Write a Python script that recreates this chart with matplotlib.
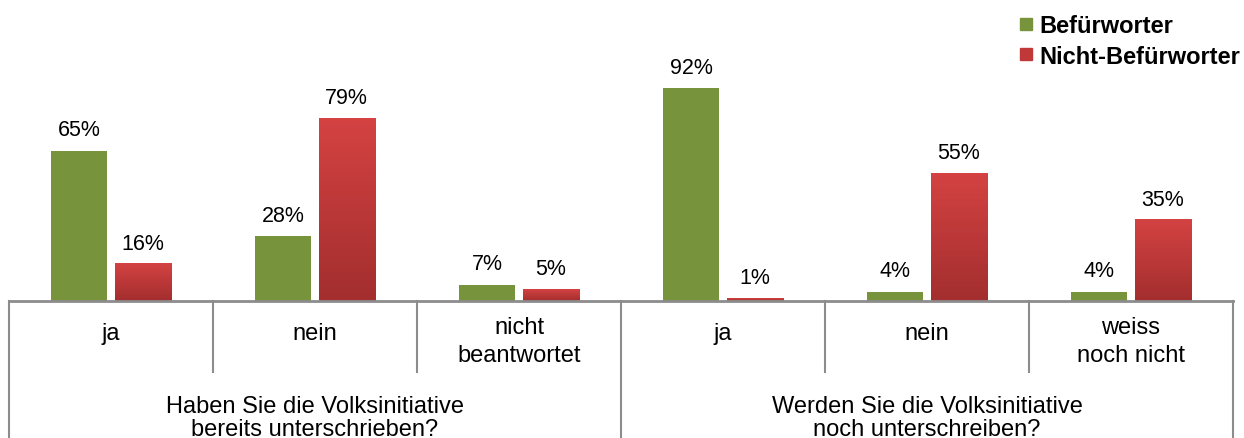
import numpy as np
import matplotlib.pyplot as plt
from matplotlib.colors import LinearSegmentedColormap
from matplotlib.lines import Line2D

plt.rcParams['font.family'] = ['Liberation Sans', 'DejaVu Sans']

# Daten
categories = ["ja", "nein", "nicht\nbeantwortet", "ja", "nein", "weiss\nnoch nicht"]
groups = ["Haben Sie die Volksinitiative\nbereits unterschrieben?",
          "Werden Sie die Volksinitiative\nnoch unterschreiben?"]
befuerworter = [65, 28, 7, 92, 4, 4]
nicht_befuerworter = [16, 79, 5, 1, 55, 35]
series_names = ["Befürworter", "Nicht-Befürworter"]

green = "#77933c"
red_cmap = LinearSegmentedColormap.from_list("rot", ["#a32e2e", "#d44242"])

W, H = 1244, 439
fig = plt.figure(figsize=(W / 100, H / 100), dpi=100)
base_px = 302
ax = fig.add_axes([9 / W, (H - base_px) / H, 1224 / W, base_px / H])
scale = 2.315  # pixel pro Prozent
ymax = base_px / scale
ax.axis("off")

def py(ypx):
    # Pixelzeile -> Datenkoordinate
    return (base_px - ypx) / scale

x = np.arange(len(categories)) + 0.5
bw = 0.275
off = 0.155

ax.bar(x - off, befuerworter, width=bw, color=green, zorder=2)
grad = np.linspace(0, 1, 100).reshape(-1, 1)
for xi, v in zip(x + off, nicht_befuerworter):
    ax.imshow(grad, cmap=red_cmap, origin="lower", aspect="auto",
              extent=(xi - bw / 2, xi + bw / 2, 0, v), zorder=2)
ax.set_xlim(0, len(categories))
ax.set_ylim(0, ymax)

for xi, v in zip(x - off, befuerworter):
    ax.text(xi, v + 9, f"{v}%", ha="center", va="center", fontsize=15.5)
for xi, v in zip(x + off, nicht_befuerworter):
    ax.text(xi, v + 9, f"{v}%", ha="center", va="center", fontsize=15.5)

# Achse und Trennlinien
lc = "#8c8c8c"
ax.plot([0, len(categories)], [0, 0], color=lc, lw=2, clip_on=False, zorder=3)
for i in range(len(categories) + 1):
    bottom = py(H) if i % 3 == 0 else py(373)
    ax.plot([i, i], [0, bottom], color=lc, lw=1.5, clip_on=False)

for xi, c in zip(x, categories):
    yc = py(334) if "\n" not in c else py(342)
    ax.text(xi, yc, c, ha="center", va="center", fontsize=17, linespacing=1.4)

for gi, g in enumerate(groups):
    ax.text(gi * 3 + 1.5, py(418.5), g, ha="center", va="center", fontsize=17,
            linespacing=1.1)

handles = [Line2D([], [], marker="s", color=green, ls="", markersize=8),
           Line2D([], [], marker="s", color="#c03838", ls="", markersize=8)]
fig.legend(handles, series_names, loc="upper right",
           bbox_to_anchor=(1.0 + 18 / W, 1.02 - 3 / H),
           frameon=False, prop={"weight": "bold", "size": 17},
           handlelength=0.6, handletextpad=0.3, labelspacing=0.3)

fig.savefig("out.png", dpi=100)
